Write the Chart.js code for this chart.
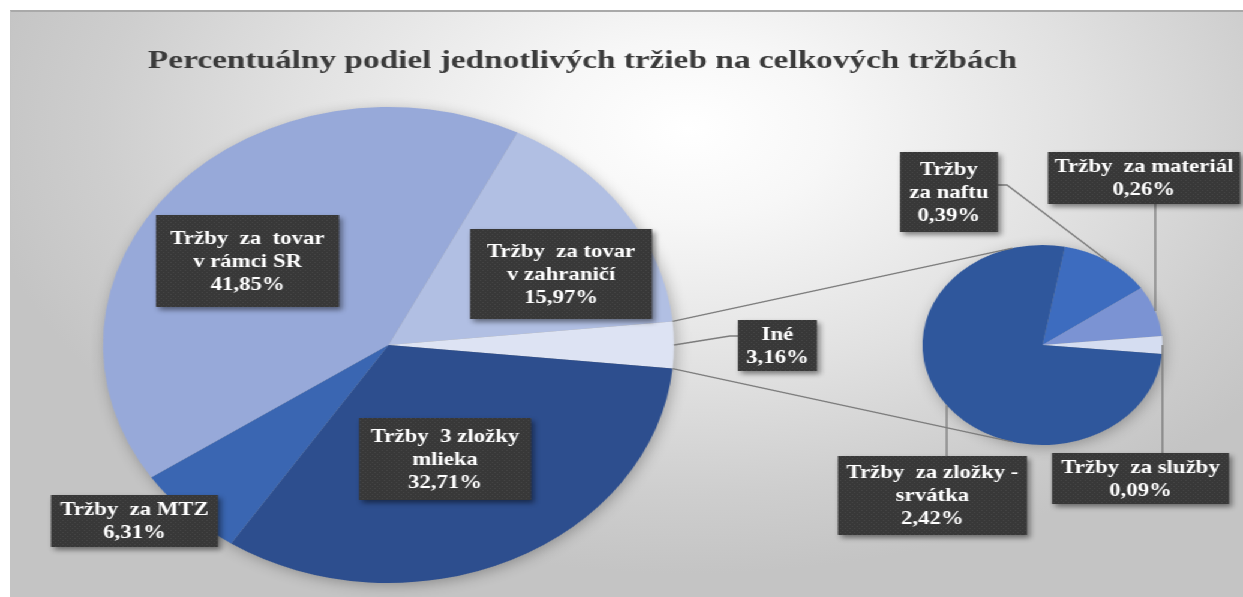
<!DOCTYPE html>
<html><head><meta charset="utf-8">
<script src="https://cdn.jsdelivr.net/npm/chart.js@4.4.1/dist/chart.umd.min.js"></script>
<style>
html,body{margin:0;padding:0;background:#fff;}
#page{position:relative;width:1243px;height:597px;overflow:hidden;background:#fff;}
#bg{position:absolute;left:10px;top:10px;width:1233px;height:587px;box-sizing:border-box;border-top:2px solid #a9a9a9;border-left:1px solid #c4c4c4;
 background:radial-gradient(ellipse 58% 76% at 55% 20%, #ffffff 0%, #f7f7f7 20%, #e1e1e1 55%, #cecece 82%, #c4c4c4 100%);}
#stage{position:absolute;left:0;top:0;width:1036px;height:597px;transform-origin:0 0;}
#stage canvas{position:absolute;left:0;top:0;}
</style></head>
<body>
<div id="page"><div id="bg"></div>
<div id="stage"><canvas id="c1" width="1036" height="597"></canvas><canvas id="c2" width="1036" height="597"></canvas></div></div>
<script>
// ---------- data ----------
const titleText = 'Percentuálny podiel jednotlivých tržieb na celkových tržbách';
const mainCategories = ['Tržby za tovar v rámci SR','Tržby za tovar v zahraničí','Iné','Tržby 3 zložky mlieka','Tržby za MTZ'];
const mainValues = [41.85, 15.97, 3.16, 32.71, 6.31];
const mainLabelLines = [['Tržby  za  tovar','v rámci SR'],['Tržby  za tovar','v zahraničí'],['Iné'],['Tržby  3 zložky','mlieka'],['Tržby  za MTZ']];
const detailCategories = ['Tržby za naftu','Tržby za materiál','Tržby za služby','Tržby za zložky - srvátka'];
const detailValues = [0.39, 0.26, 0.09, 2.42];
const detailLabelLines = [['Tržby','za naftu'],['Tržby  za materiál'],['Tržby  za služby'],['Tržby  za zložky -','srvátka']];

// ---------- styles / layout ----------
const mainColors = ['#97a9d9','#b1bfe3','#dde3f3','#2d4e8e','#3a66b2'];
const detailColors = ['#3d6cbf','#7b93d3','#d5ddf1','#2f579c'];
const FONT_FAMILY = '"Liberation Serif", "Times New Roman", serif';
const W = 1036, H = 597, S = 1243 / W;
document.getElementById('stage').style.transform = 'scaleX(' + S + ')';
const U = v => v / S;
const mainPie = {cx: 388.5, cy: 345, r: 238};
const detailPie = {cx: 1042.5, cy: 345, r: 100};
const mainBoxes = [[156,215,339,307],[470,229,652,319],[738,320,817,371],[359,418,531,500],[51,495,218,547]];
const detailBoxes = [[900,152,998,232],[1048,152,1240,204],[1052,453,1229,504],[838,456,1027,535]];
const leaderSpecs = [
  {set:'main', index:2, pts:[[730,336],[738,336]]},
  {set:'detail', index:0, pts:[[1007,185],[998,185]]},
  {set:'detail', index:1, vert:204},
  {set:'detail', index:2, vert:453},
  {set:'detail', index:3, vert:456}
];

function padFor(p){ const cx = U(p.cx); return {left: cx - p.r, right: W - cx - p.r, top: p.cy - p.r, bottom: H - p.cy - p.r}; }
function sum(a){ return a.reduce((s,v)=>s+v,0); }
function pct(v){ return v.toFixed(2).replace('.', ',') + '%'; }

const pieShadow = {
  id:'pieShadow',
  beforeDatasetsDraw(chart){
    const a = chart.getDatasetMeta(0).data[0];
    const ctx = chart.ctx; ctx.save();
    ctx.shadowColor = 'rgba(0,0,0,0.30)'; ctx.shadowBlur = 14; ctx.shadowOffsetX = 2; ctx.shadowOffsetY = 3;
    ctx.fillStyle = '#9a9a9a';
    ctx.beginPath(); ctx.arc(a.x, a.y, a.outerRadius - 1, 0, Math.PI*2); ctx.fill(); ctx.restore();
  }
};

function makePattern(ctx){
  const c = document.createElement('canvas'); c.width = 4; c.height = 4;
  const g = c.getContext('2d');
  g.fillStyle = '#383838'; g.fillRect(0,0,4,4);
  g.fillStyle = '#474747'; g.fillRect(0,0,1,1); g.fillRect(2,2,1,1);
  return ctx.createPattern(c, 'repeat');
}

let chart1;
const overlay = {
  id:'overlay',
  afterDraw(chart){
    const ctx = chart.ctx;
    const mainArcs = chart1.getDatasetMeta(0).data;
    const detArcs = chart.getDatasetMeta(0).data;
    // title
    ctx.save();
    ctx.font = 'bold 26px ' + FONT_FAMILY;
    ctx.fillStyle = '#3b3b3b'; ctx.textBaseline = 'alphabetic'; ctx.textAlign = 'left';
    const tw = ctx.measureText(titleText).width, target = U(1017) - U(148);
    ctx.translate(U(148), 68); ctx.scale(target / tw, 1);
    ctx.fillText(titleText, 0, 0);
    ctx.restore();
    // connector lines (pie of pie)
    ctx.save();
    ctx.strokeStyle = '#7c7c7c'; ctx.lineWidth = 1.4;
    const m = mainArcs[2], R = m.outerRadius;
    const p1 = [m.x + R*Math.cos(m.startAngle), m.y + R*Math.sin(m.startAngle)];
    const p2 = [m.x + R*Math.cos(m.endAngle), m.y + R*Math.sin(m.endAngle)];
    const d0 = detArcs[0], C = [d0.x, d0.y], r = d0.outerRadius;
    function tangent(P, upper){
      const dx = P[0]-C[0], dy = P[1]-C[1], d = Math.hypot(dx,dy), th = Math.atan2(dy,dx), a = Math.acos(r/d);
      const t1 = [C[0]+r*Math.cos(th+a), C[1]+r*Math.sin(th+a)], t2 = [C[0]+r*Math.cos(th-a), C[1]+r*Math.sin(th-a)];
      return upper ? (t1[1] < t2[1] ? t1 : t2) : (t1[1] > t2[1] ? t1 : t2);
    }
    const t1 = tangent(p1, true), t2 = tangent(p2, false);
    ctx.beginPath(); ctx.moveTo(p1[0], p1[1]); ctx.lineTo(t1[0], t1[1]);
    ctx.moveTo(p2[0], p2[1]); ctx.lineTo(t2[0], t2[1]); ctx.stroke();
    leaderSpecs.forEach(sp => {
      const a = (sp.set === 'main' ? mainArcs : detArcs)[sp.index];
      const mid = (a.startAngle + a.endAngle) / 2;
      const ex = a.x + a.outerRadius*Math.cos(mid), ey = a.y + a.outerRadius*Math.sin(mid);
      ctx.beginPath(); ctx.moveTo(ex, ey);
      if (sp.vert !== undefined) ctx.lineTo(ex, sp.vert);
      else sp.pts.forEach(p => ctx.lineTo(U(p[0]), p[1]));
      ctx.stroke();
    });
    ctx.restore();
    const pat = makePattern(ctx);
    function drawBox(box, lines){
      const x0 = U(box[0]), x1 = U(box[2]), y0 = box[1], y1 = box[3];
      ctx.save();
      ctx.shadowColor = 'rgba(0,0,0,0.45)'; ctx.shadowBlur = 5; ctx.shadowOffsetX = 2.5; ctx.shadowOffsetY = 3;
      ctx.fillStyle = pat; ctx.fillRect(x0, y0, x1-x0, y1-y0);
      ctx.restore();
      ctx.save();
      ctx.fillStyle = '#ffffff'; ctx.font = 'bold 19px ' + FONT_FAMILY;
      ctx.textAlign = 'center'; ctx.textBaseline = 'middle';
      const lh = 23, cy = (y0+y1)/2, cx = (x0+x1)/2;
      lines.forEach((t,i) => ctx.fillText(t, cx, cy + (i - (lines.length-1)/2)*lh + 1));
      ctx.restore();
    }
    mainBoxes.forEach((b,i) => drawBox(b, mainLabelLines[i].concat([pct(mainValues[i])])));
    detailBoxes.forEach((b,i) => drawBox(b, detailLabelLines[i].concat([pct(detailValues[i])])));
  }
};

function pieConfig(labels, values, colors, rotation, pad, plugins){
  return {type:'pie',
    data:{labels, datasets:[{data:values, backgroundColor:colors, borderWidth:0, hoverOffset:0}]},
    options:{responsive:false, animation:false, events:[], rotation, layout:{padding:pad},
      plugins:{legend:{display:false}, tooltip:{enabled:false}, title:{display:false}}},
    plugins};
}

const mainTotal = sum(mainValues);
const mainRotation = 90 - 360*(mainValues[0] + mainValues[1] + mainValues[2]/2)/mainTotal;
const detTotal = sum(detailValues);
const detRotation = 90 - 360*(detailValues[0] + detailValues[1] + detailValues[2]/2)/detTotal;
chart1 = new Chart(document.getElementById('c1'), pieConfig(mainCategories, mainValues, mainColors, mainRotation, padFor(mainPie), [pieShadow]));
new Chart(document.getElementById('c2'), pieConfig(detailCategories, detailValues, detailColors, detRotation, padFor(detailPie), [pieShadow, overlay]));
</script>
</body></html>
